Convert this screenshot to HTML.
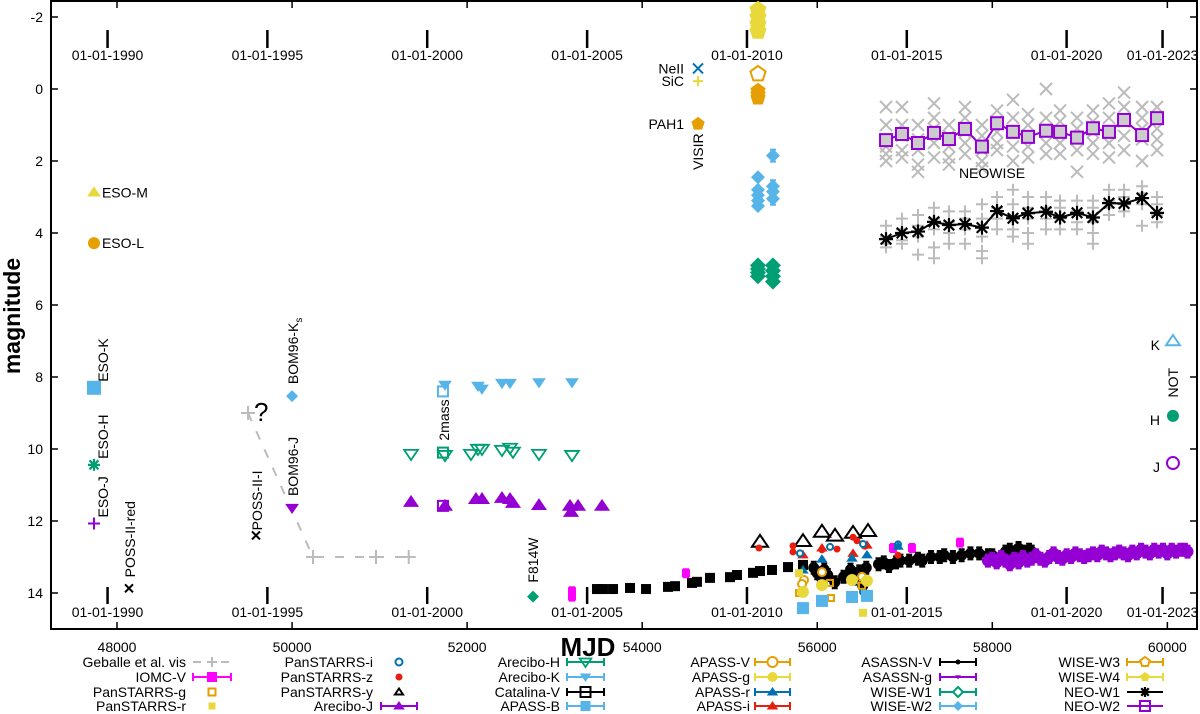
<!DOCTYPE html>
<html><head><meta charset="utf-8"><style>
html,body{margin:0;padding:0;background:#fff;}
svg{display:block;font-family:"Liberation Sans",sans-serif;}
</style></head><body>
<svg id="chart" width="1200" height="714" viewBox="0 0 1200 714" xmlns="http://www.w3.org/2000/svg">
<rect x="51" y="1" width="1146" height="628" fill="none" stroke="#000" stroke-width="2"/>
<text transform="translate(20,316) rotate(-90)" text-anchor="middle" font-size="23" font-weight="bold">magnitude</text>
<text x="588" y="656" text-anchor="middle" font-size="26" font-weight="bold">MJD</text>
<g id="axes"></g><g id="marks"></g><g id="legend"></g>
</svg>
<script>
const NS='http://www.w3.org/2000/svg';
const xTicks=[48000,50000,52000,54000,56000,58000,60000];
const yTicks=[-2,0,2,4,6,8,10,12,14];
const dateLabels=['01-01-1990','01-01-1995','01-01-2000','01-01-2005','01-01-2010','01-01-2015','01-01-2020','01-01-2023'];
const dateMjd=[47892,49718,51544,53371,55197,57023,58849,59945];
const gebMjd=[49497,50239,50959,51333];
const gebMag=[9.0,13.0,13.0,13.0];
const esoMjd=47737;
const esoNames=['ESO-M','ESO-L','ESO-K','ESO-H','ESO-J'];
const esoMag=[2.87,4.28,8.3,10.44,12.07];
const possRed=[48137,13.87];
const possI=[49588,12.4];
const bomMjd=50000;
const bomMag=[8.53,11.64];
const twoMassMjd=51724;
const twoMassMag=[8.4,10.1,11.58];
const areKMjd=[51747,52124,52170,52398,52490,52821,53198];
const areKMag=[8.22,8.25,8.33,8.17,8.17,8.15,8.15];
const areHMjd=[51359,51747,52044,52124,52170,52398,52490,52524,52821,53198];
const areHMag=[10.14,10.17,10.14,10.0,10.0,10.03,9.97,10.08,10.14,10.17];
const areJMjd=[51359,51747,52101,52170,52398,52490,52524,52821,53175,53187,53267,53541];
const areJMag=[11.47,11.58,11.39,11.39,11.36,11.39,11.5,11.56,11.58,11.75,11.58,11.58];
const f814=[52753,14.1];
const iomcMjd=[53198,53198,54500,56865,57082,57631];
const iomcMag=[13.95,14.1,13.45,12.75,12.75,12.6];
const catMjd=[53484,53552,53667,53861,54044,54295,54375,54569,54626,54775,55003,55083,55266,55346,55483,55666,55837];
const catMag=[13.89,13.89,13.89,13.86,13.89,13.83,13.81,13.72,13.69,13.58,13.56,13.5,13.44,13.39,13.36,13.28,13.22];
const psyMjd=[55346,55837,56054,56203,56409,56580];
const psyMag=[12.58,12.56,12.3,12.41,12.33,12.28];
const pszMjd=[55334,55723,55723,56054,56226,56409,56454,56546,56923];
const pszMag=[12.75,12.69,12.86,12.8,12.78,12.45,12.55,12.7,12.95];
const apiMjd=[55837,56054,56409,56568];
const apiMag=[12.94,12.75,12.9,12.67];
const psiMjd=[55803,56146,56523,56523,56923];
const psiMag=[12.9,12.72,12.64,13.97,12.65];
const aprMjd=[55837,56054,56397,56568,56923];
const aprMag=[13.36,13.06,13.03,12.94,12.7];
const apvMjd=[55849,55826,56054,56511];
const apvMag=[13.64,13.75,13.42,13.55];
const psgMjd=[55792,56146,56157,56511];
const psgMag=[14.0,13.72,14.14,13.8];
const apgMjd=[55837,56054,56397,56568];
const apgMag=[13.97,13.78,13.64,13.66];
const apbMjd=[55837,56054,56397,56568];
const apbMag=[14.42,14.22,14.11,14.08];
const psrMjd=[56523,55792];
const psrMag=[14.55,13.45];
const asvMjd=[55960,56000,56050,56080,56120,56200,56300,56380,56420,56480,56520,56560,56700,56760,56820,56900,56950,57050,57150,57200,57300,57400,57450,57550,57650,57750,57850,57950,58000,58150,58200,58250,58300,58350,58420,58450];
const asvMag=[13.3,13.45,13.6,13.35,13.5,13.7,13.55,13.35,13.6,13.4,13.8,13.3,13.2,13.15,13.25,13.15,13.1,13.1,13.05,13.1,13.0,13.0,12.95,13.0,12.95,12.9,12.9,12.95,12.95,12.85,12.8,12.9,12.75,12.85,12.8,12.85];
const asgMjd=[57950,58000,58050,58100,58150,58200,58250,58300,58350,58400,58450,58500,58550,58600,58650,58700,58750,58800,58850,58900,58950,59000,59050,59100,59150,59200,59250,59300,59350,59400,59450,59500,59550,59600,59650,59700,59750,59800,59850,59900,59950,60000,60050,60100,60150,60200,60230];
const asgMag=[13.1,13.05,13.15,13.0,13.1,13.2,13.05,13.15,13.0,13.1,13.05,12.95,13.05,13.1,13.0,12.9,13.0,13.05,12.95,13.0,12.9,12.95,13.0,12.95,12.9,12.95,12.85,12.9,12.95,12.9,12.85,12.9,12.95,12.85,12.9,12.8,12.85,12.9,12.8,12.85,12.8,12.9,12.8,12.85,12.8,12.8,12.85];
const wiseMjd=[55323,55494];
const w1a=[4.9,5.0,5.1,5.2];
const w1b=[4.9,5.05,5.2,5.35];
const w2a=[2.45,2.8,2.95,3.1,3.25];
const w2b=[1.85,2.7,2.85,3.05];
const w3=[-0.42,0.05,0.15,0.25];
const w4=[-2.2,-2.0,-1.8,-1.6];
const visirMjd=54638;
const visirNames=['NeII','SiC','PAH1'];
const visirMag=[-0.57,-0.22,0.97];
const notMjd=60064;
const notNames=['K','H','J'];
const notMag=[7.0,9.08,10.39];
const neoMjd=[56786,56968,57151,57334,57505,57688,57882,58054,58236,58408,58614,58774,58968,59150,59333,59505,59711,59882];
const neoW2=[1.42,1.25,1.5,1.22,1.39,1.11,1.6,0.95,1.19,1.33,1.16,1.19,1.35,1.09,1.19,0.86,1.28,0.81];
const neoW1=[4.17,4.0,3.96,3.69,3.78,3.75,3.85,3.39,3.59,3.45,3.41,3.57,3.44,3.57,3.17,3.18,3.03,3.44];
const neoW2single=[[0.5,1.0,1.6,1.8,2.0],[0.5,1.0,1.3,1.7,1.9],[1.0,1.4,1.7,2.1,2.3],[0.4,0.8,1.1,1.5,1.9],[1.0,1.3,1.6,1.9,2.1],[0.5,0.8,1.2,1.5,1.8],[1.0,1.3,1.7,2.0,2.2],[0.6,0.9,1.2,1.5,1.7],[0.3,0.8,1.2,1.6,2.0],[0.7,1.0,1.3,1.6,1.9],[0.0,0.8,1.2,1.5,1.8],[0.6,0.9,1.2,1.5,1.8],[0.8,1.1,1.4,1.7,2.3],[0.6,0.9,1.2,1.5,1.8],[0.4,0.8,1.2,1.5,1.9],[0.1,0.5,0.9,1.3,1.7],[0.5,0.8,1.1,1.4,2.0],[0.5,0.8,1.1,1.4,1.7]];
const neoW1single=[[3.8,4.1,4.3,4.4],[3.6,3.9,4.2,4.3],[3.5,3.8,4.1,4.6],[3.3,3.6,3.9,4.4,4.7],[3.4,3.7,4.0,4.3],[3.4,3.6,3.9,4.3],[3.2,3.6,4.1,4.5,4.7],[3.0,3.3,3.6,3.9],[2.8,3.2,3.6,3.9,4.1],[3.0,3.3,3.6,4.0,4.3],[3.0,3.3,3.6,3.9],[3.1,3.3,3.6,3.9],[3.1,3.4,3.7,3.9],[3.1,3.3,3.7,4.0,4.3],[2.8,3.1,3.3,3.5],[2.8,3.0,3.2,3.4],[2.7,2.9,3.2,3.8],[3.0,3.2,3.5,3.7]];

function X(m){return 117+(m-48000)*0.08753;}
function Y(v){return 89+36*v;}
const C={purple:'#9400d3',green:'#009e73',blue:'#56b4e9',orange:'#e69f00',yellow:'#e8d83a',dblue:'#0072b2',red:'#e51e10',mag:'#ff00ff',gray:'#bbbbbb',black:'#000'};
const axes=document.getElementById('axes');
const marks=document.getElementById('marks');
const legend=document.getElementById('legend');

function el(parent,tag,name,attrs){
  const e=document.createElementNS(NS,tag);
  
  
  for(const k in attrs) e.setAttribute(k,attrs[k]);
  parent.appendChild(e);return e;
}
function txt(parent,name,x,y,s,opt){
  const t=el(parent,'text',name,Object.assign({x:x,y:y,'font-size':14},opt||{}));
  t.textContent=s;return t;
}
function rtxt(parent,name,x,y,s){
  const t=el(parent,'text',name,{transform:'translate('+x+','+y+') rotate(-90)','font-size':14});
  t.textContent=s;return t;
}
function marker(parent,name,type,x,y,col,s){
  s=s||5;
  if(type==='circ') return el(parent,'circle',name,{cx:x,cy:y,r:s,fill:col});
  if(type==='ocirc') return el(parent,'circle',name,{cx:x,cy:y,r:s,fill:'#fff',stroke:col,'stroke-width':2});
  if(type==='sq') return el(parent,'rect',name,{x:x-s,y:y-s,width:2*s,height:2*s,fill:col});
  if(type==='osq') return el(parent,'rect',name,{x:x-s,y:y-s,width:2*s,height:2*s,fill:'none',stroke:col,'stroke-width':2});
  if(type==='tri') return el(parent,'polygon',name,{points:(x)+','+(y-s)+' '+(x+s*1.15)+','+(y+s*0.7)+' '+(x-s*1.15)+','+(y+s*0.7),fill:col});
  if(type==='otri') return el(parent,'polygon',name,{points:(x)+','+(y-s)+' '+(x+s*1.15)+','+(y+s*0.7)+' '+(x-s*1.15)+','+(y+s*0.7),fill:'none',stroke:col,'stroke-width':2});
  if(type==='dtri') return el(parent,'polygon',name,{points:(x)+','+(y+s)+' '+(x+s*1.15)+','+(y-s*0.7)+' '+(x-s*1.15)+','+(y-s*0.7),fill:col});
  if(type==='odtri') return el(parent,'polygon',name,{points:(x)+','+(y+s)+' '+(x+s*1.15)+','+(y-s*0.7)+' '+(x-s*1.15)+','+(y-s*0.7),fill:'none',stroke:col,'stroke-width':1.8});
  if(type==='dia') return el(parent,'polygon',name,{points:x+','+(y-s)+' '+(x+s)+','+y+' '+x+','+(y+s)+' '+(x-s)+','+y,fill:col});
  if(type==='odia') return el(parent,'polygon',name,{points:x+','+(y-s)+' '+(x+s)+','+y+' '+x+','+(y+s)+' '+(x-s)+','+y,fill:'#fff',stroke:col,'stroke-width':2});
  if(type==='pent'||type==='opent'){let p=[];for(let i=0;i<5;i++){const a=-Math.PI/2+i*2*Math.PI/5;p.push((x+s*Math.cos(a)).toFixed(1)+','+(y+s*Math.sin(a)).toFixed(1));}
    return el(parent,'polygon',name,type==='pent'?{points:p.join(' '),fill:col}:{points:p.join(' '),fill:'#fff',stroke:col,'stroke-width':2});}
  if(type==='x') return el(parent,'path',name,{d:'M'+(x-s)+' '+(y-s)+'L'+(x+s)+' '+(y+s)+'M'+(x-s)+' '+(y+s)+'L'+(x+s)+' '+(y-s),stroke:col,'stroke-width':2,fill:'none'});
  if(type==='plus') return el(parent,'path',name,{d:'M'+(x-s)+' '+y+'L'+(x+s)+' '+y+'M'+x+' '+(y-s)+'L'+x+' '+(y+s),stroke:col,'stroke-width':2,fill:'none'});
  if(type==='star') return el(parent,'path',name,{d:'M'+(x-s)+' '+y+'L'+(x+s)+' '+y+'M'+x+' '+(y-s)+'L'+x+' '+(y+s)+'M'+(x-s*0.75)+' '+(y-s*0.75)+'L'+(x+s*0.75)+' '+(y+s*0.75)+'M'+(x-s*0.75)+' '+(y+s*0.75)+'L'+(x+s*0.75)+' '+(y-s*0.75),stroke:col,'stroke-width':2.2,fill:'none'});
}

xTicks.forEach(function(t){
  const x=X(t);
  el(axes,'line','x-tick',{x1:x,y1:629,x2:x,y2:622,stroke:'#000','stroke-width':1.5});
  el(axes,'line','x-tick-top',{x1:x,y1:1,x2:x,y2:8,stroke:'#000','stroke-width':1.5});
  txt(axes,'x-tick-label',x,652,String(t),{'text-anchor':'middle'});
});
yTicks.forEach(function(t){
  const y=Y(t);
  el(axes,'line','y-tick',{x1:51,y1:y,x2:58,y2:y,stroke:'#000','stroke-width':1.5});
  el(axes,'line','y-tick-right',{x1:1197,y1:y,x2:1190,y2:y,stroke:'#000','stroke-width':1.5});
  txt(axes,'y-tick-label',43,y+5,String(t),{'text-anchor':'end'});
});
dateMjd.forEach(function(m,i){
  const x=X(m);
  el(axes,'line','date-tick-top',{x1:x,y1:30,x2:x,y2:48,stroke:'#000','stroke-width':2.5});
  txt(axes,'date-label-top',x,60,dateLabels[i],{'text-anchor':'middle'});
  el(axes,'line','date-tick-bottom',{x1:x,y1:587,x2:x,y2:604,stroke:'#000','stroke-width':2.5});
  txt(axes,'date-label-bottom',x,617,dateLabels[i],{'text-anchor':'middle'});
});

function ebar(name,x,y,col,h){
  el(marks,'path',name,{d:'M'+x+' '+(y-h)+'L'+x+' '+(y+h)+'M'+(x-3)+' '+(y-h)+'L'+(x+3)+' '+(y-h)+'M'+(x-3)+' '+(y+h)+'L'+(x+3)+' '+(y+h),stroke:col,'stroke-width':2,fill:'none'});
}
function series(mjds,mags,name,type,col,s,eb){
  mjds.forEach(function(m,i){
    if(eb) ebar(name+'-errorbar',X(m),Y(mags[i]),col,eb);
    marker(marks,name,type,X(m),Y(mags[i]),col,s);
  });
}

let gd='';gebMjd.forEach(function(m,i){gd+=(i?'L':'M')+X(m)+' '+Y(gebMag[i]);});
el(marks,'path','geballe-line',{d:gd,stroke:C.gray,'stroke-width':2,'stroke-dasharray':'9,11',fill:'none'});
series(gebMjd,gebMag,'geballe-point','plus',C.gray,7);
txt(marks,'question-mark',X(gebMjd[0])+6,Y(gebMag[0])+8,'?',{'font-size':26});

const esoTypes=['tri','circ','sq','star','plus'];
const esoCols=[C.yellow,C.orange,C.blue,C.green,C.purple];
esoMag.forEach(function(v,i){
  marker(marks,'eso-point',esoTypes[i],X(esoMjd),Y(v),esoCols[i],i===2?7:6);
  if(i<2) txt(marks,'eso-label',X(esoMjd)+8,Y(v)+5,esoNames[i]);
  else rtxt(marks,'eso-label',X(esoMjd)+14,Y(v)-6,esoNames[i]);
});
marker(marks,'poss-ii-red-point','x',X(possRed[0]),Y(possRed[1]),C.black,4);
rtxt(marks,'poss-ii-red-label',X(possRed[0])+6,Y(possRed[1])-11,'POSS-II-red');
marker(marks,'poss-ii-i-point','x',X(possI[0]),Y(possI[1]),C.black,4);
rtxt(marks,'poss-ii-i-label',X(possI[0])+6,Y(possI[1])-5,'POSS-II-I');
marker(marks,'bom96-ks-point','dia',X(bomMjd),Y(bomMag[0]),C.blue,6);
const bk=rtxt(marks,'bom96-ks-label',X(bomMjd)+6,Y(bomMag[0])-12,'BOM96-K');
const sub=document.createElementNS(NS,'tspan');


sub.setAttribute('font-size','10');sub.setAttribute('dy','4');sub.textContent='s';bk.appendChild(sub);
marker(marks,'bom96-j-point','dtri',X(bomMjd),Y(bomMag[1]),C.purple,6);
rtxt(marks,'bom96-j-label',X(bomMjd)+6,Y(bomMag[1])-12,'BOM96-J');

series(areKMjd,areKMag,'arecibo-k-point','dtri',C.blue,6);
series(areHMjd,areHMag,'arecibo-h-point','odtri',C.green,6);
series(areJMjd,areJMag,'arecibo-j-point','tri',C.purple,7);
const tmCols=[C.blue,C.green,C.purple];
twoMassMag.forEach(function(v,i){marker(marks,'2mass-point','osq',X(twoMassMjd),Y(v),tmCols[i],5);});
rtxt(marks,'2mass-label',X(twoMassMjd)+6,Y(twoMassMag[1])-12,'2mass');
marker(marks,'f814w-point','dia',X(f814[0]),Y(f814[1]),C.green,6);
rtxt(marks,'f814w-label',X(f814[0])+5,Y(f814[1])-14,'F814W');

series(catMjd,catMag,'catalina-v-point','sq',C.black,5);
series(asvMjd,asvMag,'asassn-v-point','circ',C.black,5.5,6);
series(asgMjd,asgMag,'asassn-g-point','circ',C.purple,6,6);
series(iomcMjd,iomcMag,'iomc-v-point','sq',C.mag,4,4);
series(psyMjd,psyMag,'panstarrs-y-point','otri',C.black,7);
series(pszMjd,pszMag,'panstarrs-z-point','circ',C.red,3.5);
series(apiMjd,apiMag,'apass-i-point','tri',C.red,5);
series(psiMjd,psiMag,'panstarrs-i-point','ocirc',C.dblue,3);
series(aprMjd,aprMag,'apass-r-point','tri',C.dblue,5);
series(apvMjd,apvMag,'apass-v-point','ocirc',C.orange,4);
series(psgMjd,psgMag,'panstarrs-g-point','osq',C.orange,3);
series(apgMjd,apgMag,'apass-g-point','circ',C.yellow,6);
series(apbMjd,apbMag,'apass-b-point','sq',C.blue,6);
series(psrMjd,psrMag,'panstarrs-r-point','sq',C.yellow,4);

w1a.forEach(function(v){marker(marks,'wise-w1-point','dia',X(wiseMjd[0]),Y(v),C.green,8);});
w1b.forEach(function(v){marker(marks,'wise-w1-point','dia',X(wiseMjd[1]),Y(v),C.green,8);});
w2a.forEach(function(v){marker(marks,'wise-w2-point','dia',X(wiseMjd[0]),Y(v),C.blue,7);});
w2b.forEach(function(v){ebar('wise-w2-errorbar',X(wiseMjd[1]),Y(v),C.blue,6);marker(marks,'wise-w2-point','dia',X(wiseMjd[1]),Y(v),C.blue,7);});
w3.forEach(function(v,i){marker(marks,'wise-w3-point',i===0?'opent':'pent',X(wiseMjd[0]),Y(v),C.orange,8);});
w4.forEach(function(v){marker(marks,'wise-w4-point','pent',X(wiseMjd[0]),Y(v),C.yellow,9);});

const visTypes=['x','plus','pent'];const visCols=[C.dblue,C.yellow,C.orange];
visirMag.forEach(function(v,i){
  marker(marks,'visir-point',visTypes[i],X(visirMjd),Y(v),visCols[i],i===2?7:5);
  txt(marks,'visir-label',X(visirMjd)-14,Y(v)+5,visirNames[i],{'text-anchor':'end'});
});
rtxt(marks,'visir-label',X(visirMjd)+5,Y(visirMag[2])+46,'VISIR');

const notTypes=['otri','circ','ocirc'];const notCols=[C.blue,C.green,C.purple];
notMag.forEach(function(v,i){
  marker(marks,'not-point',notTypes[i],X(notMjd),Y(v),notCols[i],6);
  txt(marks,'not-label',X(notMjd)-13,Y(v)+9,notNames[i],{'text-anchor':'end'});
});
rtxt(marks,'not-label',X(notMjd)+5,(Y(notMag[0])+Y(notMag[1]))/2+19,'NOT');

neoMjd.forEach(function(m,i){
  neoW2single[i].forEach(function(v){marker(marks,'neo-w2-single','x',X(m),Y(v),C.gray,6);});
  neoW1single[i].forEach(function(v){marker(marks,'neo-w1-single','plus',X(m),Y(v),C.gray,6);});
});
let p2='',p1='';
neoMjd.forEach(function(m,i){p2+=(i?'L':'M')+X(m)+' '+Y(neoW2[i]);p1+=(i?'L':'M')+X(m)+' '+Y(neoW1[i]);});
el(marks,'path','neo-w2-line',{d:p2,stroke:C.purple,'stroke-width':2,fill:'none'});
el(marks,'path','neo-w1-line',{d:p1,stroke:C.black,'stroke-width':2,fill:'none'});
neoMjd.forEach(function(m,i){
  el(marks,'rect','neo-w2-point',{x:X(m)-6,y:Y(neoW2[i])-6,width:12,height:12,fill:'#ccc',stroke:C.purple,'stroke-width':2});
  marker(marks,'neo-w1-point','star',X(m),Y(neoW1[i]),C.black,7);
});
txt(marks,'neowise-label',992,178,'NEOWISE',{'text-anchor':'middle'});

const legRows=[662,677,692,706];
const legCols=[[186,193,231],[373,381,417],[560,567,604],[750,755,790],[932,940,976],[1120,1127,1163]];
const legItems=[
 ['Geballe et al. vis','plus',C.gray,'dash'],['IOMC-V','sq',C.mag,'eb'],['PanSTARRS-g','osq',C.orange,''],['PanSTARRS-r','sq',C.yellow,''],
 ['PanSTARRS-i','ocirc',C.dblue,''],['PanSTARRS-z','circ',C.red,''],['PanSTARRS-y','otri',C.black,''],['Arecibo-J','tri',C.purple,'eb'],
 ['Arecibo-H','odtri',C.green,'eb'],['Arecibo-K','dtri',C.blue,'eb'],['Catalina-V','osq',C.black,'eb'],['APASS-B','sq',C.blue,'eb'],
 ['APASS-V','ocirc',C.orange,'eb'],['APASS-g','circ',C.yellow,'eb'],['APASS-r','tri',C.dblue,'eb'],['APASS-i','tri',C.red,'eb'],
 ['ASASSN-V','circ',C.black,'eb'],['ASASSN-g','dtri',C.purple,'eb'],['WISE-W1','odia',C.green,'eb'],['WISE-W2','dia',C.blue,'eb'],
 ['WISE-W3','opent',C.orange,'eb'],['WISE-W4','pent',C.yellow,'eb'],['NEO-W1','star',C.black,'line'],['NEO-W2','osq',C.purple,'line']];
legItems.forEach(function(it,k){
  const c=legCols[Math.floor(k/4)],y=legRows[k%4],cx=(c[1]+c[2])/2;
  txt(legend,'legend-label',c[0],y+5,it[0],{'text-anchor':'end'});
  if(it[3]==='dash'){
    el(legend,'line','legend-line',{x1:c[1],y1:y,x2:c[2],y2:y,stroke:C.gray,'stroke-width':2,'stroke-dasharray':'8,6'});
  } else if(it[3]){
    el(legend,'line','legend-line',{x1:c[1],y1:y,x2:c[2],y2:y,stroke:it[2],'stroke-width':2});
    if(it[3]==='eb') el(legend,'path','legend-caps',{d:'M'+c[1]+' '+(y-4)+'L'+c[1]+' '+(y+4)+'M'+c[2]+' '+(y-4)+'L'+c[2]+' '+(y+4),stroke:it[2],'stroke-width':2});
  }
  const sz=it[3]===''?3.5:(it[0]==='ASASSN-V'||it[0]==='ASASSN-g'?2.5:5);
  marker(legend,'legend-marker',it[1],cx,y,it[2],sz);
});
</script>
</body></html>
